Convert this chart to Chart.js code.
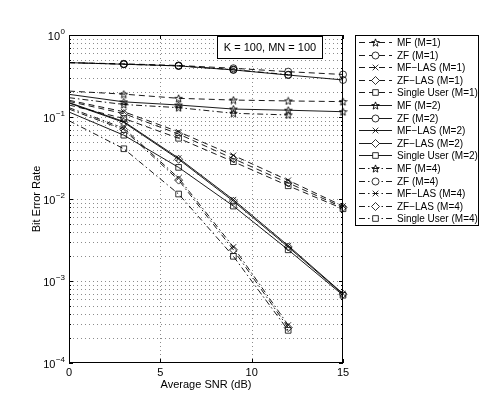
<!DOCTYPE html>
<html><head><meta charset="utf-8">
<script src="https://cdn.jsdelivr.net/npm/chart.js@4/dist/chart.umd.min.js"></script>
<style>html,body{margin:0;padding:0;background:#fff;}</style>
</head><body>
<canvas id="c" width="485" height="393"></canvas>
<script>
// ---- data ----
const snr = [0, 3, 6, 9, 12, 15];
const xTicks = [0, 5, 10, 15];
const yDecades = [0, -1, -2, -3, -4];
const annotationText = 'K = 100, MN = 100';
const xTitle = 'Average SNR (dB)';
const yTitle = 'Bit Error Rate';

const mf_m1     = [0.207, 0.190, 0.169, 0.161, 0.157, 0.154];
const zf_m1     = [0.46, 0.445, 0.425, 0.393, 0.357, 0.330];
const mflas_m1  = [0.160, 0.116, 0.066, 0.034, 0.0169, 0.0082];
const zflas_m1  = [0.155, 0.110, 0.062, 0.031, 0.0157, 0.0079];
const su_m1     = [0.140, 0.096, 0.055, 0.0285, 0.0145, 0.0076];

const mf_m2     = [0.189, 0.153, 0.140, 0.125, 0.121, 0.116];
const zf_m2     = [0.46, 0.440, 0.420, 0.375, 0.325, 0.283];
const mflas_m2  = [0.150, 0.088, 0.0315, 0.0098, 0.0027, 0.00070];
const zflas_m2  = [0.148, 0.086, 0.0305, 0.0094, 0.0026, 0.00069];
const su_m2     = [0.115, 0.060, 0.0243, 0.0082, 0.0024, 0.00067];

const mf_m4     = [0.172, 0.142, 0.130, 0.111, 0.106];
const zf_m4     = [0.46, 0.440, 0.420, 0.378, 0.328];
const mflas_m4  = [0.130, 0.073, 0.018, 0.0026, 0.00029];
const zflas_m4  = [0.125, 0.070, 0.017, 0.0024, 0.00027];
const su_m4     = [0.090, 0.041, 0.0115, 0.0020, 0.00025];

// ---- styles ----
function pentagram() {
  const c = document.createElement('canvas');
  c.width = 9; c.height = 9;
  const g = c.getContext('2d');
  g.strokeStyle = '#000'; g.lineWidth = 0.9;
  g.beginPath();
  for (let i = 0; i < 10; i++) {
    const r = i % 2 ? 1.7 : 4.0;
    const a = -Math.PI / 2 + i * Math.PI / 5;
    const px = 4.5 + r * Math.cos(a), py = 4.9 + r * Math.sin(a);
    i === 0 ? g.moveTo(px, py) : g.lineTo(px, py);
  }
  g.closePath(); g.stroke();
  return c;
}
const starImg = pentagram();
const markers = {
  MF: {style: starImg, r: 4},
  ZF: {style: 'circle', r: 3.5},
  MFLAS: {style: 'crossRot', r: 4},
  ZFLAS: {style: 'rectRot', r: 4},
  SU: {style: 'rect', r: 4}
};
const dashes = {1: [6, 4], 2: [], 4: [6, 3, 1.5, 3]};

const series = [
  ['MF (M=1)', mf_m1, 'MF', 1],
  ['ZF (M=1)', zf_m1, 'ZF', 1],
  ['MF\u2212LAS (M=1)', mflas_m1, 'MFLAS', 1],
  ['ZF\u2212LAS (M=1)', zflas_m1, 'ZFLAS', 1],
  ['Single User (M=1)', su_m1, 'SU', 1],
  ['MF (M=2)', mf_m2, 'MF', 2],
  ['ZF (M=2)', zf_m2, 'ZF', 2],
  ['MF\u2212LAS (M=2)', mflas_m2, 'MFLAS', 2],
  ['ZF\u2212LAS (M=2)', zflas_m2, 'ZFLAS', 2],
  ['Single User (M=2)', su_m2, 'SU', 2],
  ['MF (M=4)', mf_m4, 'MF', 4],
  ['ZF (M=4)', zf_m4, 'ZF', 4],
  ['MF\u2212LAS (M=4)', mflas_m4, 'MFLAS', 4],
  ['ZF\u2212LAS (M=4)', zflas_m4, 'ZFLAS', 4],
  ['Single User (M=4)', su_m4, 'SU', 4]
];

const datasets = series.map(([label, vals, mk, m]) => ({
  label,
  data: vals.map((v, i) => ({x: snr[i], y: v})),
  borderColor: '#000',
  backgroundColor: 'rgba(0,0,0,0)',
  borderWidth: 0.9,
  borderDash: dashes[m],
  pointStyle: markers[mk].style,
  pointRadius: vals.map((v, i) => i === 0 ? 0 : markers[mk].r),
  pointBorderColor: '#000',
  pointBorderWidth: 0.8,
  pointBackgroundColor: 'rgba(0,0,0,0)',
  tension: 0,
  clip: false,
  _mk: mk, _m: m
}));

const FONT = '"Liberation Sans", Arial, Helvetica, sans-serif';

const allYTicks = [];
yDecades.slice().reverse().forEach(e => {
  for (let k = 1; k <= 9; k++) {
    const v = k * Math.pow(10, e);
    if (v <= 1) allYTicks.push(v);
  }
});

const gridPlugin = {
  id: 'dotGrid',
  beforeDatasetsDraw(chart) {
    const g = chart.ctx, a = chart.chartArea;
    const xs = chart.scales.x, ys = chart.scales.y;
    g.save();
    g.strokeStyle = '#8c8c8c'; g.lineWidth = 1; g.setLineDash([1, 3]);
    g.beginPath();
    allYTicks.forEach(v => {
      const py = Math.round(ys.getPixelForValue(v)) + 0.5;
      if (py <= a.top + 1 || py >= a.bottom - 1) return;
      g.moveTo(a.left, py); g.lineTo(a.right, py);
    });
    xTicks.forEach(t => {
      const px = Math.round(xs.getPixelForValue(t)) + 0.5;
      if (px <= a.left + 1 || px >= a.right - 1) return;
      g.moveTo(px, a.bottom); g.lineTo(px, a.top);
    });
    g.stroke();
    g.restore();
  }
};

const decor = {
  id: 'decor',
  afterDraw(chart) {
    const g = chart.ctx, a = chart.chartArea;
    const xs = chart.scales.x, ys = chart.scales.y;
    g.save();
    g.strokeStyle = '#000'; g.lineWidth = 1; g.setLineDash([]);
    g.strokeRect(a.left + 0.5, a.top + 0.5, a.right - a.left - 1, a.bottom - a.top - 1);
    g.beginPath();
    xTicks.forEach(t => {
      const px = Math.round(xs.getPixelForValue(t)) + 0.5;
      g.moveTo(px, a.bottom); g.lineTo(px, a.bottom - 4);
      g.moveTo(px, a.top); g.lineTo(px, a.top + 4);
    });
    allYTicks.forEach(v => {
      const py = Math.round(ys.getPixelForValue(v)) + 0.5;
      const major = Math.abs(Math.log10(v) - Math.round(Math.log10(v))) < 1e-9;
      const len = major ? 4 : 2;
      g.moveTo(a.left, py); g.lineTo(a.left + len, py);
      g.moveTo(a.right, py); g.lineTo(a.right - len, py);
    });
    g.stroke();
    g.fillStyle = '#000';
    g.font = '11px ' + FONT;
    g.textAlign = 'center'; g.textBaseline = 'top';
    xTicks.forEach(t => g.fillText(String(t), xs.getPixelForValue(t), a.bottom + 4));
    yDecades.forEach(e => {
      const py = ys.getPixelForValue(Math.pow(10, e));
      const ex = e === 0 ? '0' : '\u2212' + Math.abs(e);
      g.font = '8px ' + FONT;
      const ew = g.measureText(ex).width;
      g.textAlign = 'left'; g.textBaseline = 'alphabetic';
      const right = a.left - 4;
      g.fillText(ex, right - ew, py - 1);
      g.font = '11px ' + FONT;
      g.textAlign = 'right';
      g.fillText('10', right - ew - 0.5, py + 5);
    });
    g.font = '11px ' + FONT;
    g.textAlign = 'center'; g.textBaseline = 'middle';
    g.fillText(xTitle, (a.left + a.right) / 2, 385);
    g.save();
    g.translate(37, (a.top + a.bottom) / 2);
    g.rotate(-Math.PI / 2);
    g.fillText(yTitle, 0, 0);
    g.restore();
    // annotation box
    g.fillStyle = '#fff';
    g.fillRect(217.5, 36.5, 105, 22);
    g.strokeStyle = '#000'; g.lineWidth = 1;
    g.strokeRect(217.5, 36.5, 105, 22);
    g.fillStyle = '#000';
    g.font = '11px ' + FONT;
    g.fillText(annotationText, 270, 48);
    // legend
    const lx = 355.5, ly = 35.5, lw = 123, lh = 190;
    g.fillStyle = '#fff'; g.fillRect(lx, ly, lw, lh);
    g.strokeRect(lx, ly, lw, lh);
    chart.data.datasets.forEach((ds, i) => {
      const y = Math.round(42 + i * 12.6) + 0.5;
      g.strokeStyle = '#000'; g.lineWidth = 0.9;
      g.setLineDash(ds.borderDash);
      g.beginPath(); g.moveTo(359, y); g.lineTo(392, y); g.stroke();
      g.setLineDash([]);
      g.lineWidth = 0.8;
      g.fillStyle = '#fff';
      Chart.helpers.drawPoint(g, {pointStyle: ds.pointStyle, radius: markers[ds._mk].r, rotation: 0, borderWidth: 0.8}, 375.5, y);
      g.fillStyle = '#000';
      g.font = '10px ' + FONT;
      g.textAlign = 'left'; g.textBaseline = 'middle';
      g.fillText(ds.label, 397, y + 0.5);
    });
    g.restore();
  }
};

new Chart(document.getElementById('c'), {
  type: 'line',
  data: {datasets},
  options: {
    responsive: false,
    animation: false,
    devicePixelRatio: 1,
    layout: {padding: {left: 0, top: 35, right: 142, bottom: 0}},
    plugins: {legend: {display: false}, tooltip: {enabled: false}},
    scales: {
      x: {
        type: 'linear', min: 0, max: 15,
        ticks: {display: false},
        afterBuildTicks: s => { s.ticks = xTicks.map(v => ({value: v})); },
        grid: {display: false},
        border: {display: false},
        afterFit: s => { s.height = 30; }
      },
      y: {
        type: 'logarithmic', min: 1e-4, max: 1,
        ticks: {display: false},
        afterBuildTicks: s => { s.ticks = allYTicks.map(v => ({value: v})); },
        grid: {display: false},
        border: {display: false},
        afterFit: s => { s.width = 69; }
      }
    }
  },
  plugins: [gridPlugin, decor]
});
</script>
</body></html>
